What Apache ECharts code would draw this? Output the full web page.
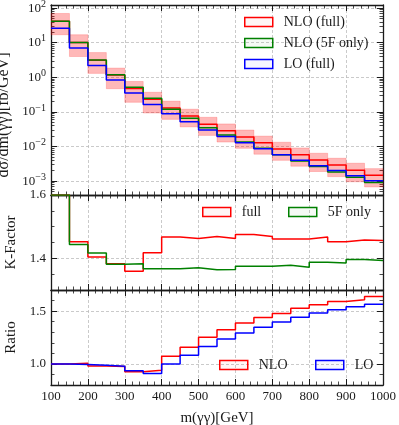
<!DOCTYPE html>
<html>
<head>
<meta charset="utf-8">
<script src="https://cdn.jsdelivr.net/npm/echarts@6/dist/echarts.min.js"></script>
<style>
html, body { margin: 0; padding: 0; background: #fff; }
#chart { width: 399px; height: 425px; }
</style>
</head>
<body>
<div id="chart"></div>
<script>
// bin edges of m(yy) in GeV
var edges = [100, 150, 200, 250, 300, 350, 400, 450, 500, 550, 600, 650, 700, 750, 800, 850, 900, 950, 1000];

// d sigma / dm  [fb/GeV]
var nloFull = [41.6, 10.2, 3.09, 1.16, 0.476, 0.234, 0.129, 0.076, 0.044, 0.0285, 0.0189, 0.0128, 0.0085, 0.0058, 0.0041, 0.00293, 0.00208, 0.00149];
var nlo5F = [41.6, 10.1, 3.15, 1.19, 0.515, 0.249, 0.120, 0.0657, 0.0351, 0.0215, 0.0136, 0.0089, 0.00575, 0.0038, 0.00263, 0.00184, 0.00129, 0.00091];
var loFull = [26.0, 7.0, 2.2, 0.84, 0.35, 0.165, 0.088, 0.052, 0.030, 0.0195, 0.0128, 0.0087, 0.0058, 0.0040, 0.0028, 0.00202, 0.00143, 0.00102];
// NLO (full) uncertainty band
var bandHigh = [70, 17, 5.2, 1.85, 0.76, 0.37, 0.205, 0.12, 0.070, 0.045, 0.030, 0.020, 0.0133, 0.0091, 0.0064, 0.0046, 0.0033, 0.0023];
var bandLow = [17, 4.0, 1.3, 0.47, 0.19, 0.093, 0.061, 0.037, 0.021, 0.0135, 0.0089, 0.006, 0.004, 0.0027, 0.0019, 0.00135, 0.00096, 0.00068];

// K-factor
var kFull = [1.60, 1.452, 1.404, 1.383, 1.359, 1.418, 1.467, 1.463, 1.469, 1.463, 1.475, 1.469, 1.461, 1.461, 1.467, 1.452, 1.458, 1.456];
var k5F = [1.60, 1.444, 1.417, 1.381, 1.383, 1.367, 1.367, 1.370, 1.364, 1.365, 1.375, 1.375, 1.378, 1.372, 1.388, 1.385, 1.396, 1.393];

// ratio full / 5F
var ratioNLO = [1.0, 1.006, 0.981, 0.976, 0.925, 0.94, 1.072, 1.157, 1.252, 1.324, 1.387, 1.44, 1.478, 1.528, 1.56, 1.591, 1.607, 1.638];
var ratioLO = [1.0, 0.995, 0.988, 0.978, 0.934, 0.909, 1.0, 1.082, 1.164, 1.236, 1.292, 1.346, 1.396, 1.443, 1.481, 1.513, 1.541, 1.566];

var kTicks = [1.4, 1.6];
var ratioTicks = [1.0, 1.5];
var logMin = -3.4, logMax = 2.09;

var FONT = 'Liberation Serif';
var INK = '#1a1a1a';
var RED = '#ff0000', GREEN = '#008000', BLUE = '#0000ff';

// minor ticks of the log axis (2..9 x 10^n)
var logMinor = [];
for (var n = -4; n <= 2; n++) {
  for (var k = 2; k <= 9; k++) logMinor.push(Math.log10(k * Math.pow(10, n)));
}

var myChart = echarts.init(document.getElementById('chart'));

function steps(vals) {
  var pts = [];
  for (var i = 0; i < edges.length; i++) {
    pts.push([edges[i], vals[Math.min(i, vals.length - 1)]]);
  }
  return pts;
}

var gridLine = { color: '#bdbdbd', width: 0.8, type: [3, 2] };

function xAx(grid, pos, labels) {
  return {
    type: 'value', gridIndex: grid, position: pos,
    min: 100, max: 1000, interval: 100,
    axisLine: { show: true, onZero: false, lineStyle: { color: INK, width: 1.3 } },
    axisTick: { show: true, inside: true, length: 6, lineStyle: { color: INK, width: 1 } },
    minorTick: { show: true, splitNumber: 5, length: 3.5, lineStyle: { color: INK, width: 0.8 } },
    axisLabel: {
      show: labels, margin: 5, color: INK, fontFamily: FONT, fontSize: 13,
      formatter: function (v) { return String(v); }
    },
    splitLine: { show: pos === 'bottom', lineStyle: gridLine },
    name: labels ? 'm(γγ)[GeV]' : '',
    nameLocation: 'middle', nameGap: 26,
    nameTextStyle: { color: INK, fontFamily: FONT, fontSize: 15 }
  };
}

function yMain(grid, pos, min, max, ticks, name, gap) {
  var left = pos === 'left';
  return {
    type: 'value', gridIndex: grid, position: pos, min: min, max: max,
    axisLine: { show: true, onZero: false, lineStyle: { color: INK, width: 1.3 } },
    axisTick: { show: true, inside: true, length: 6, customValues: ticks, lineStyle: { color: INK, width: 1 } },
    axisLabel: {
      show: left, customValues: ticks, margin: 5, color: INK, fontFamily: FONT, fontSize: 13,
      formatter: function (v) { return v.toFixed(1); }
    },
    splitLine: { show: left, lineStyle: gridLine },
    name: left ? name : '', nameLocation: 'middle', nameGap: gap,
    nameTextStyle: { color: INK, fontFamily: FONT, fontSize: 15 }
  };
}

function yMinor(grid, pos, min, max, step, custom) {
  var ax = {
    type: 'value', gridIndex: grid, position: pos, min: min, max: max,
    axisLine: { show: false },
    axisTick: { show: true, inside: true, length: 3.5, lineStyle: { color: INK, width: 0.8 } },
    axisLabel: { show: false },
    splitLine: { show: false }
  };
  if (custom) ax.axisTick.customValues = custom;
  else ax.interval = step;
  return ax;
}

function yLog(pos) {
  var left = pos === 'left';
  return {
    type: 'log', logBase: 10, gridIndex: 0, position: pos,
    min: Math.pow(10, logMin), max: Math.pow(10, logMax),
    axisLine: { show: true, onZero: false, lineStyle: { color: INK, width: 1.3 } },
    axisTick: { show: true, inside: true, length: 6, lineStyle: { color: INK, width: 1 } },
    axisLabel: {
      show: left, margin: 5, color: INK, fontFamily: FONT, fontSize: 13,
      formatter: function (v) {
        var e = Math.log10(v), r = Math.round(e);
        if (Math.abs(e - r) > 1e-6) return '';
        return '10{sup|' + (r < 0 ? '\u2212' + (-r) : r) + '}';
      },
      rich: { sup: { fontFamily: FONT, fontSize: 10, color: INK, padding: [0, 0, 8, 0] } }
    },
    splitLine: { show: left, lineStyle: gridLine },
    name: left ? 'dσ/dm(γγ)[fb/GeV]' : '', nameLocation: 'middle', nameGap: 30,
    nameTextStyle: { color: INK, fontFamily: FONT, fontSize: 16, padding: [0, 30, 0, 0] }
  };
}

function histLine(name, vals, color, xi, yi, z) {
  return {
    name: name, type: 'line', xAxisIndex: xi, yAxisIndex: yi,
    data: steps(vals), step: 'end', showSymbol: false, symbol: 'none',
    lineStyle: { color: color, width: 1.5 }, itemStyle: { color: color },
    clip: true, z: z
  };
}

function leg(name, color, fill, left, top) {
  return {
    data: [{ name: name, icon: 'rect', itemStyle: { color: fill, borderColor: color, borderWidth: 1.5 } }],
    left: left, top: top, padding: 0, itemWidth: 28, itemHeight: 9, selectedMode: false,
    textStyle: { fontFamily: FONT, fontSize: 14, color: INK, padding: [0, 0, 0, 6] }
  };
}

var bandData = [];
for (var i = 0; i < loFull.length; i++) {
  bandData.push([edges[i], edges[i + 1], bandLow[i], bandHigh[i]]);
}

option = {
  backgroundColor: '#fff',
  animation: false,
  grid: [
    { left: 51, right: 16, top: 5, height: 190, outerBoundsMode: 'none' },
    { left: 51, right: 16, top: 195, height: 95, outerBoundsMode: 'none' },
    { left: 51, right: 16, top: 290, height: 95, outerBoundsMode: 'none' }
  ],
  xAxis: [
    xAx(0, 'bottom', false), xAx(0, 'top', false),
    xAx(1, 'bottom', false), xAx(1, 'top', false),
    xAx(2, 'bottom', true), xAx(2, 'top', false)
  ],
  yAxis: [
    yLog('left'), yLog('right'),
    yMinor(0, 'left', logMin, logMax, null, logMinor), yMinor(0, 'right', logMin, logMax, null, logMinor),
    yMain(1, 'left', 1.3, 1.6, kTicks, 'K-Factor', 27), yMain(1, 'right', 1.3, 1.6, kTicks, '', 0),
    yMinor(1, 'left', 1.3, 1.6, 0.05), yMinor(1, 'right', 1.3, 1.6, 0.05),
    yMain(2, 'left', 0.8, 1.7, ratioTicks, 'Ratio', 27), yMain(2, 'right', 0.8, 1.7, ratioTicks, '', 0),
    yMinor(2, 'left', 0.8, 1.7, 0.1), yMinor(2, 'right', 0.8, 1.7, 0.1)
  ],
  legend: [
    leg('NLO (full)', RED, 'rgba(255,0,0,0.04)', 244, 15),
    leg('NLO (5F only)', GREEN, 'rgba(0,128,0,0.04)', 244, 36),
    leg('LO (full)', BLUE, 'rgba(0,0,255,0.03)', 244, 57),
    leg('full', RED, 'rgba(255,0,0,0.04)', 202, 205),
    leg('5F only', GREEN, 'rgba(0,128,0,0.04)', 288, 205),
    leg('NLO', RED, 'rgba(255,0,0,0.04)', 219, 358),
    leg('LO', BLUE, 'rgba(0,0,255,0.03)', 315, 358)
  ],
  series: [
    {
      name: 'band', type: 'custom', xAxisIndex: 0, yAxisIndex: 0, z: 1,
      data: bandData, encode: { x: [0, 1], y: [2, 3] },
      renderItem: function (params, api) {
        var p0 = api.coord([api.value(0), api.value(3)]);
        var p1 = api.coord([api.value(1), api.value(2)]);
        return {
          type: 'rect',
          shape: { x: p0[0], y: p0[1], width: p1[0] - p0[0], height: p1[1] - p0[1] },
          style: { fill: 'rgba(255,0,0,0.28)', stroke: 'rgba(255,0,0,0.18)', lineWidth: 1 }
        };
      }
    },
    histLine('NLO (full)', nloFull, RED, 0, 0, 3),
    histLine('NLO (5F only)', nlo5F, GREEN, 0, 0, 4),
    histLine('LO (full)', loFull, BLUE, 0, 0, 5),
    histLine('full', kFull, RED, 2, 4, 3),
    histLine('5F only', k5F, GREEN, 2, 4, 4),
    histLine('NLO', ratioNLO, RED, 4, 8, 3),
    histLine('LO', ratioLO, BLUE, 4, 8, 4)
  ]
};

myChart.setOption(option);
</script>
</body>
</html>
